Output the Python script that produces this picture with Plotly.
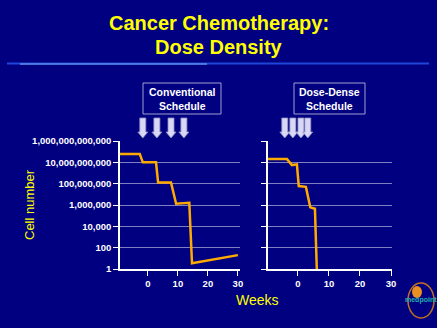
import plotly.graph_objects as go

W, H = 437, 328

# Data (weeks, cell number)
conv_weeks = [-9.3, -2.7, -1.7, 2.7, 3.4, 7.7, 9.4, 13.8, 14.7, 30]
conv_cells = [6e10, 6e10, 1e10, 1e10, 1.3e8, 1.3e8, 1.3e6, 1.6e6, 3.5, 20]
dd_weeks = [-9.6, -3.5, -1.9, -0.3, 0.3, 2.6, 4.0, 5.5, 6.1]
dd_cells = [2e10, 2e10, 5.5e9, 6.5e9, 6e7, 5e7, 6e5, 4.5e5, 1]
conv_doses = [-1.7, 3.0, 7.7, 12.0]
dd_doses = [-4.2, -1.6, 1.0, 3.2]
ytick_vals = [1, 100, 1e4, 1e6, 1e8, 1e10, 1e12]
ytick_text = ["1", "100", "10,000", "1,000,000", "100,000,000",
              "10,000,000,000", "1,000,000,000,000"]
xtick_vals = [0, 10, 20, 30]

BG = "#000080"
GRID = "#8080C0"
LINE = "#FFAA00"
YEL = "#FFFF00"

def py(p):
    return 1 - p / H

fig = go.Figure()
fig.add_trace(go.Scatter(x=conv_weeks, y=conv_cells, mode="lines",
                         line=dict(color=LINE, width=2.5), xaxis="x", yaxis="y",
                         showlegend=False, hoverinfo="skip"))
fig.add_trace(go.Scatter(x=dd_weeks, y=dd_cells, mode="lines",
                         line=dict(color=LINE, width=2.5), xaxis="x2", yaxis="y2",
                         showlegend=False, hoverinfo="skip"))

ydom = [py(269), py(141)]
tickfont = dict(family="Arial", size=9.5, color="white")
axis_common = dict(showline=True, linecolor="white", linewidth=1.5, ticks="outside",
                   tickcolor="white", ticklen=5, zeroline=False, automargin=False,
                   tickfont=tickfont)

fig.update_layout(
    width=W, height=H, margin=dict(l=0, r=0, t=0, b=0, pad=0),
    paper_bgcolor=BG, plot_bgcolor=BG,
    font=dict(family="Arial"),
    xaxis=dict(domain=[120 / W, 240 / W], range=[-9.3, 30.7], tickvals=xtick_vals,
               ticktext=["<b>%d</b>" % v for v in xtick_vals], showgrid=False,
               anchor="y", **axis_common),
    yaxis=dict(domain=ydom, type="log", range=[0, 12], tickvals=ytick_vals,
               ticktext=["<b>%s</b>" % t for t in ytick_text], showgrid=True,
               gridcolor=GRID, gridwidth=1, anchor="x", **axis_common),
    xaxis2=dict(domain=[268 / W, 392 / W], range=[-9.6, 30.3], tickvals=xtick_vals,
                ticktext=["<b>%d</b>" % v for v in xtick_vals], showgrid=False,
                anchor="y2", **axis_common),
    yaxis2=dict(domain=ydom, type="log", range=[0, 12], tickvals=ytick_vals,
                showticklabels=False, anchor="x2", showgrid=True, gridcolor=GRID,
                gridwidth=1, **axis_common),
)

def note(text, x, y, size, color, bold=False, **kw):
    fig.add_annotation(text=("<b>%s</b>" % text) if bold else text, x=x / W, y=py(y),
                       xref="paper", yref="paper", showarrow=False,
                       xanchor="center", yanchor="middle",
                       font=dict(size=size, color=color, family="Arial"), **kw)

# Title
note("Cancer Chemotherapy:", 219, 23, 20, YEL, bold=True)
note("Dose Density", 219, 47, 20, YEL, bold=True)
# Underline
fig.add_shape(type="line", xref="paper", yref="paper", x0=7 / W, x1=429 / W,
              y0=py(63.5), y1=py(63.5), line=dict(color="#1E46D8", width=2))
fig.add_shape(type="line", xref="paper", yref="paper", x0=20 / W, x1=207 / W,
              y0=py(64), y1=py(64), line=dict(color="#5A8CE6", width=1.5))

# Schedule boxes
fig.add_shape(type="rect", xref="paper", yref="paper", x0=143 / W, x1=221 / W,
              y0=py(114), y1=py(83), line=dict(color="#A0A0D0", width=1))
fig.add_shape(type="rect", xref="paper", yref="paper", x0=294 / W, x1=365 / W,
              y0=py(114), y1=py(83), line=dict(color="#A0A0D0", width=1))
note("Conventional<br>Schedule", 182, 98.5, 10.5, "white", bold=True)
note("Dose-Dense<br>Schedule", 329.5, 98.5, 10.5, "white", bold=True)

# Dose arrows (block arrows above the plots)
def arrow_path(c, s):
    sh, hh = 3 * s, 5 * s
    y_top, y_neck, y_tip = py(118), py(132), py(138)
    return (f"M {c - sh} {y_top} L {c + sh} {y_top} L {c + sh} {y_neck} "
            f"L {c + hh} {y_neck} L {c} {y_tip} L {c - hh} {y_neck} "
            f"L {c - sh} {y_neck} Z")

for c in conv_doses:
    fig.add_shape(type="path", xref="x", yref="paper", path=arrow_path(c, 1 / 3.0),
                  fillcolor="#D8D8F4", line=dict(color="#9090C8", width=0.8))
for c in dd_doses:
    fig.add_shape(type="path", xref="x2", yref="paper", path=arrow_path(c, 1 / 3.13),
                  fillcolor="#D8D8F4", line=dict(color="#9090C8", width=0.8))

# Axis titles
note("Cell number", 29, 204, 13, YEL, textangle=-90)
note("Weeks", 257, 300, 14, YEL)

# Logo approximation
fig.add_shape(type="circle", xref="paper", yref="paper", x0=408 / W, x1=434 / W,
              y0=py(318), y1=py(283), line=dict(color="#C07020", width=1.5))
fig.add_shape(type="circle", xref="paper", yref="paper", x0=412 / W, x1=422 / W,
              y0=py(298), y1=py(286), fillcolor="#E89020", line=dict(width=0))
note("medpoint", 421, 300, 7, "#20B0B0", bold=True)

fig.write_html("out.html")
